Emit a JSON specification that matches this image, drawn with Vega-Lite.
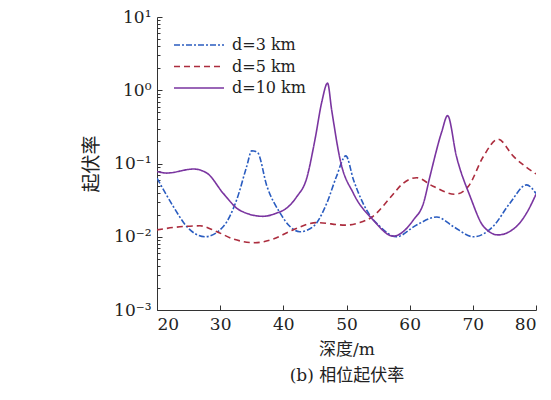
{
  "$schema": "https://vega.github.io/schema/vega-lite/v6.json",
  "width": 379,
  "height": 293,
  "autosize": {"type": "none"},
  "padding": {"left": 157, "top": 17, "right": 15, "bottom": 90},
  "background": "white",
  "config": {"view": {"stroke": null}, "font": "DejaVu Serif, Noto Sans CJK SC"},
  "data": {"values": [
    {"series": "d=3 km", "depth": 20, "value": 0.063},
    {"series": "d=3 km", "depth": 22.6, "value": 0.0257},
    {"series": "d=3 km", "depth": 24.7, "value": 0.0138},
    {"series": "d=3 km", "depth": 27.6, "value": 0.010},
    {"series": "d=3 km", "depth": 30.5, "value": 0.0138},
    {"series": "d=3 km", "depth": 32.6, "value": 0.0317},
    {"series": "d=3 km", "depth": 34.2, "value": 0.091},
    {"series": "d=3 km", "depth": 35.0, "value": 0.149},
    {"series": "d=3 km", "depth": 35.9, "value": 0.142},
    {"series": "d=3 km", "depth": 37.4, "value": 0.049},
    {"series": "d=3 km", "depth": 39.5, "value": 0.021},
    {"series": "d=3 km", "depth": 41.05, "value": 0.0138},
    {"series": "d=3 km", "depth": 42.6, "value": 0.0117},
    {"series": "d=3 km", "depth": 44.75, "value": 0.0138},
    {"series": "d=3 km", "depth": 46.9, "value": 0.029},
    {"series": "d=3 km", "depth": 48.4, "value": 0.066},
    {"series": "d=3 km", "depth": 49.9, "value": 0.127},
    {"series": "d=3 km", "depth": 51.1, "value": 0.060},
    {"series": "d=3 km", "depth": 53.2, "value": 0.023},
    {"series": "d=3 km", "depth": 55.3, "value": 0.0138},
    {"series": "d=3 km", "depth": 57.9, "value": 0.010},
    {"series": "d=3 km", "depth": 61.1, "value": 0.0145},
    {"series": "d=3 km", "depth": 64.3, "value": 0.0186},
    {"series": "d=3 km", "depth": 66.9, "value": 0.0138},
    {"series": "d=3 km", "depth": 70.1, "value": 0.010},
    {"series": "d=3 km", "depth": 73.2, "value": 0.0138},
    {"series": "d=3 km", "depth": 75.9, "value": 0.029},
    {"series": "d=3 km", "depth": 78.5, "value": 0.051},
    {"series": "d=3 km", "depth": 80, "value": 0.039},

    {"series": "d=5 km", "depth": 20, "value": 0.0124},
    {"series": "d=5 km", "depth": 23, "value": 0.0135},
    {"series": "d=5 km", "depth": 26.8, "value": 0.0141},
    {"series": "d=5 km", "depth": 29.4, "value": 0.0118},
    {"series": "d=5 km", "depth": 32.1, "value": 0.0093},
    {"series": "d=5 km", "depth": 35.5, "value": 0.0083},
    {"series": "d=5 km", "depth": 38.4, "value": 0.0093},
    {"series": "d=5 km", "depth": 41.6, "value": 0.0125},
    {"series": "d=5 km", "depth": 45.3, "value": 0.0156},
    {"series": "d=5 km", "depth": 49.8, "value": 0.0144},
    {"series": "d=5 km", "depth": 52.1, "value": 0.0156},
    {"series": "d=5 km", "depth": 54.2, "value": 0.019},
    {"series": "d=5 km", "depth": 56.9, "value": 0.034},
    {"series": "d=5 km", "depth": 59.0, "value": 0.054},
    {"series": "d=5 km", "depth": 61.1, "value": 0.064},
    {"series": "d=5 km", "depth": 63.7, "value": 0.049},
    {"series": "d=5 km", "depth": 67.2, "value": 0.038},
    {"series": "d=5 km", "depth": 69.3, "value": 0.049},
    {"series": "d=5 km", "depth": 71.7, "value": 0.126},
    {"series": "d=5 km", "depth": 74.0, "value": 0.215},
    {"series": "d=5 km", "depth": 76.4, "value": 0.126},
    {"series": "d=5 km", "depth": 80, "value": 0.072},

    {"series": "d=10 km", "depth": 20, "value": 0.078},
    {"series": "d=10 km", "depth": 21.5, "value": 0.074},
    {"series": "d=10 km", "depth": 25.8, "value": 0.084},
    {"series": "d=10 km", "depth": 27.9, "value": 0.074},
    {"series": "d=10 km", "depth": 30.5, "value": 0.039},
    {"series": "d=10 km", "depth": 33.1, "value": 0.023},
    {"series": "d=10 km", "depth": 36.8, "value": 0.019},
    {"series": "d=10 km", "depth": 38.9, "value": 0.021},
    {"series": "d=10 km", "depth": 40.5, "value": 0.0245},
    {"series": "d=10 km", "depth": 42.1, "value": 0.035},
    {"series": "d=10 km", "depth": 43.7, "value": 0.063},
    {"series": "d=10 km", "depth": 45.0, "value": 0.21},
    {"series": "d=10 km", "depth": 46.1, "value": 0.70},
    {"series": "d=10 km", "depth": 47.0, "value": 1.25},
    {"series": "d=10 km", "depth": 47.65, "value": 0.54},
    {"series": "d=10 km", "depth": 49.0, "value": 0.112},
    {"series": "d=10 km", "depth": 51.1, "value": 0.039},
    {"series": "d=10 km", "depth": 54.2, "value": 0.017},
    {"series": "d=10 km", "depth": 57.4, "value": 0.0102},
    {"series": "d=10 km", "depth": 60.6, "value": 0.017},
    {"series": "d=10 km", "depth": 62.2, "value": 0.029},
    {"series": "d=10 km", "depth": 63.2, "value": 0.066},
    {"series": "d=10 km", "depth": 65.1, "value": 0.275},
    {"series": "d=10 km", "depth": 66.0, "value": 0.45},
    {"series": "d=10 km", "depth": 67.4, "value": 0.126},
    {"series": "d=10 km", "depth": 69.6, "value": 0.035},
    {"series": "d=10 km", "depth": 71.7, "value": 0.0138},
    {"series": "d=10 km", "depth": 74.0, "value": 0.0106},
    {"series": "d=10 km", "depth": 76.9, "value": 0.0138},
    {"series": "d=10 km", "depth": 78.5, "value": 0.021},
    {"series": "d=10 km", "depth": 80, "value": 0.038}
  ]},
  "mark": {"type": "line", "interpolate": "monotone", "strokeWidth": 1.6, "clip": true},
  "encoding": {
    "x": {
      "field": "depth", "type": "quantitative",
      "scale": {"domain": [20, 80], "nice": false},
      "axis": {
        "values": [20, 30, 40, 50, 60, 70, 80],
        "grid": false,
        "tickSize": -5,
        "tickColor": "#333",
        "domainColor": "#333",
        "labelFontSize": 17,
        "labelColor": "#222",
        "labelPadding": 11,
        "labelFont": "DejaVu Serif",
        "title": ["深度/m", "(b) 相位起伏率"],
        "titleFontSize": 17,
        "titleFontWeight": "normal",
        "titleColor": "#222",
        "titleFont": "DejaVu Serif, Noto Sans CJK SC",
        "titleLineHeight": 26,
        "titlePadding": 9
      }
    },
    "y": {
      "field": "value", "type": "quantitative",
      "scale": {"type": "log", "domain": [0.001, 10], "nice": false},
      "axis": {
        "values": [0.001, 0.002, 0.003, 0.004, 0.005, 0.006, 0.007, 0.008, 0.009, 0.01, 0.02, 0.03, 0.04, 0.05, 0.06, 0.07, 0.08, 0.09, 0.1, 0.2, 0.3, 0.4, 0.5, 0.6, 0.7, 0.8, 0.9, 1, 2, 3, 4, 5, 6, 7, 8, 9, 10],
        "labelExpr": "datum.value == 0.001 ? '10⁻³' : datum.value == 0.01 ? '10⁻²' : datum.value == 0.1 ? '10⁻¹' : datum.value == 1 ? '10⁰' : datum.value == 10 ? '10¹' : ''",
        "labelOverlap": false,
        "grid": false,
        "tickSize": {"condition": {"test": "indexof([0.001, 0.01, 0.1, 1, 10], datum.value) >= 0", "value": -5}, "value": -3},
        "tickColor": "#333",
        "domainColor": "#333",
        "labelFontSize": 17,
        "labelColor": "#222",
        "labelPadding": 11,
        "labelFont": "DejaVu Serif",
        "title": "起伏率",
        "titleFontSize": 19,
        "titleFontWeight": "normal",
        "titleColor": "#222",
        "titleFont": "Noto Sans CJK SC",
        "titlePadding": 12
      }
    },
    "color": {
      "field": "series", "type": "nominal",
      "scale": {"domain": ["d=3 km", "d=5 km", "d=10 km"], "range": ["#2a5cc0", "#ac2d3e", "#7a35a0"]},
      "legend": {
        "title": null, "orient": "none", "legendX": 34, "legendY": 20,
        "symbolType": "M-5,0H5", "symbolSize": 100, "symbolStrokeWidth": 1.6,
        "labelFontSize": 16, "labelColor": "#222", "labelFont": "DejaVu Serif",
        "rowPadding": 5.5, "labelOffset": 25, "padding": 0
      }
    },
    "strokeDash": {
      "field": "series", "type": "nominal",
      "scale": {"domain": ["d=3 km", "d=5 km", "d=10 km"], "range": [[6, 2, 2, 2], [6, 4], [1, 0]]},
      "legend": {
        "title": null, "orient": "none", "legendX": 34, "legendY": 20,
        "symbolType": "M-5,0H5", "symbolSize": 100, "symbolStrokeWidth": 1.6,
        "labelFontSize": 16, "labelColor": "#222", "labelFont": "DejaVu Serif",
        "rowPadding": 5.5, "labelOffset": 25, "padding": 0
      }
    }
  }
}
